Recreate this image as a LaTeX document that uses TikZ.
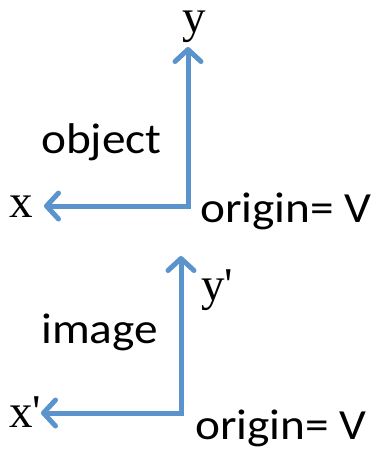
\documentclass[tikz,border=0pt]{standalone}
\usepackage{fontspec}
\usepackage{tikz}
\usetikzlibrary{arrows.meta}
\newfontfamily\labelfont[FakeStretch=1.1]{Carlito}
\newfontfamily\axisfont{Liberation Serif}
\definecolor{axisblue}{HTML}{5B93CD}

\begin{document}
\begin{tikzpicture}[
    x=1pt, y=-1pt,
    every node/.style={inner sep=0pt},
    word/.style={anchor=base west, font=\labelfont\fontsize{43}{48}\selectfont},
    letter/.style={anchor=base west, font=\axisfont\fontsize{47}{52}\selectfont},
    axis/.style={-{Straight Barb[length=12pt,width=26pt,round]}, line width=5pt,
        line cap=rect, draw=axisblue}
]
\useasboundingbox (0,0) rectangle (380,451);

% object frame
\coordinate (vo) at (188,206);
\coordinate (ytip) at (188,47);
\coordinate (xtip) at (44,206);
\node[letter, anchor=base, text height=24pt] (ylab) at (194,32) {y};
\node[letter, anchor=base] (xlab) at (21,217) {x};
\node[word] (obj) at (41,153) {object};
\node[word] (orig1) at (200,222) {origin= V};

\draw[axis] (vo) -- (ytip);
\draw[axis] (vo) -- (xtip);

% image frame
\coordinate (vi) at (181,413);
\coordinate (yptip) at (181,256);
\coordinate (xptip) at (41,413);
\node[letter] (yplab) at (201,300) {y'};
\node[letter] (xplab) at (9,427) {x'};
\node[word] (img) at (41,343) {image};
\node[word] (orig2) at (195,439) {origin= V};

\draw[axis] (vi) -- (yptip);
\draw[axis] (vi) -- (xptip);
\end{tikzpicture}
\end{document}
